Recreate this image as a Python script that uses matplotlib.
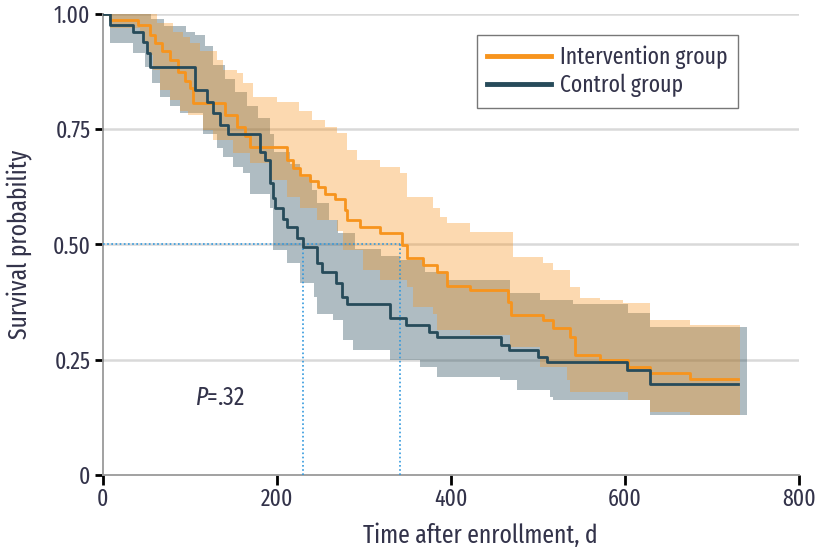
import matplotlib
matplotlib.use("Agg")
import matplotlib.pyplot as plt
import numpy as np

# Kaplan-Meier step curves (days, survival probability)
ctrl_time = [0, 8, 34, 46, 51, 54, 106, 120, 126, 134, 144, 180, 186, 192, 195, 198, 207, 211, 223, 230,
             246, 252, 268, 275, 281, 330, 348, 375, 384, 458, 467, 500, 510, 602, 629, 730]
ctrl_surv = [1.0, 0.976, 0.96, 0.94, 0.915, 0.885, 0.835, 0.81, 0.785, 0.76, 0.74, 0.70, 0.683, 0.633, 0.60,
             0.58, 0.555, 0.538, 0.515, 0.495, 0.46, 0.44, 0.416, 0.386, 0.37, 0.34, 0.325, 0.31, 0.30,
             0.282, 0.271, 0.256, 0.245, 0.228, 0.197, 0.197]

int_time = [0, 8, 40, 54, 60, 68, 77, 86, 94, 100, 103, 140, 154, 163, 169, 211, 218, 226, 238, 247,
            255, 267, 278, 280, 295, 318, 344, 349, 368, 384, 395, 422, 466, 469, 506, 517, 537, 543,
            571, 603, 629, 675, 730]
int_surv = [1.0, 0.987, 0.976, 0.955, 0.937, 0.92, 0.90, 0.874, 0.855, 0.84, 0.807, 0.78, 0.755, 0.735,
            0.711, 0.683, 0.665, 0.651, 0.638, 0.625, 0.61, 0.598, 0.575, 0.553, 0.538, 0.525, 0.499,
            0.47, 0.456, 0.44, 0.41, 0.401, 0.375, 0.347, 0.336, 0.319, 0.30, 0.26, 0.25, 0.234, 0.221,
            0.208, 0.208]

# confidence bands
ctrl_up_t = [0, 55, 70, 95, 106, 117, 126, 140, 152, 165, 178, 192, 196, 215, 226, 240, 246, 260, 270,
             290, 320, 341, 370, 395, 468, 502, 540, 603, 629, 740]
ctrl_up = [1.0, 0.99, 0.975, 0.96, 0.955, 0.93, 0.89, 0.86, 0.83, 0.80, 0.775, 0.74, 0.70, 0.675, 0.646,
           0.618, 0.59, 0.553, 0.525, 0.49, 0.475, 0.466, 0.44, 0.423, 0.395, 0.38, 0.37, 0.351, 0.321,
           0.321]
ctrl_lo_t = [0, 8, 34, 48, 56, 66, 77, 89, 115, 131, 138, 150, 161, 169, 192, 195, 211, 226, 243, 246,
             264, 276, 287, 330, 364, 384, 456, 476, 514, 517, 629, 740]
ctrl_lo = [1.0, 0.937, 0.915, 0.885, 0.85, 0.82, 0.80, 0.785, 0.74, 0.71, 0.69, 0.668, 0.655, 0.61,
           0.58, 0.488, 0.46, 0.416, 0.386, 0.35, 0.336, 0.293, 0.271, 0.25, 0.234, 0.213, 0.206, 0.184,
           0.17, 0.163, 0.13, 0.13]

int_up_t = [0, 50, 62, 80, 92, 100, 112, 131, 138, 154, 161, 172, 200, 225, 240, 255, 269, 280, 292,
            318, 341, 349, 379, 387, 395, 422, 471, 506, 517, 537, 548, 571, 598, 629, 675, 732]
int_up = [1.0, 1.0, 0.98, 0.96, 0.95, 0.937, 0.92, 0.90, 0.878, 0.872, 0.85, 0.82, 0.81, 0.79, 0.77,
          0.755, 0.742, 0.705, 0.683, 0.668, 0.655, 0.603, 0.58, 0.56, 0.547, 0.527, 0.473, 0.46, 0.445,
          0.408, 0.384, 0.38, 0.373, 0.336, 0.325, 0.325]
int_lo_t = [0, 8, 43, 48, 52, 57, 65, 77, 89, 98, 115, 127, 149, 169, 192, 211, 226, 246, 269, 276,
            299, 318, 349, 356, 379, 384, 422, 468, 502, 533, 537, 603, 629, 675, 732]
int_lo = [1.0, 0.97, 0.96, 0.937, 0.91, 0.878, 0.835, 0.813, 0.79, 0.78, 0.748, 0.727, 0.698, 0.677,
          0.64, 0.603, 0.58, 0.553, 0.53, 0.488, 0.445, 0.423, 0.408, 0.364, 0.35, 0.315, 0.304, 0.278,
          0.234, 0.206, 0.18, 0.163, 0.137, 0.13, 0.13]

medians = [230, 341]
x_ticks = [0, 200, 400, 600, 800]
y_ticks = [0, 0.25, 0.5, 0.75, 1.0]
y_labels = ['0', '0.25', '0.50', '0.75', '1.00']

ORANGE = '#f7941d'
DARK = '#274b5a'
TXT = '#33334a'
FONT = 'Fira Sans Extra Condensed'

plt.rcParams['font.family'] = [FONT, 'DejaVu Sans']
plt.rcParams['mathtext.fontset'] = 'custom'
plt.rcParams['mathtext.rm'] = FONT
plt.rcParams['mathtext.it'] = FONT + ':italic'


def step_band(ax, t_lo, lo, t_up, up, color, alpha):
    grid = np.union1d(t_lo, t_up)
    lo_g = np.asarray(lo)[np.searchsorted(t_lo, grid, side='right') - 1]
    up_g = np.asarray(up)[np.searchsorted(t_up, grid, side='right') - 1]
    ax.fill_between(grid, lo_g, up_g, step='post', color=color, alpha=alpha,
                    linewidth=0, zorder=2)


fig = plt.figure(figsize=(8.2, 5.49), dpi=100)
ax = fig.add_axes([0.1256, 0.1348, 0.8488, 0.8397])

# grid
for y in y_ticks[1:]:
    ax.axhline(y, color='#d9d9d9', lw=1.8, zorder=1)

step_band(ax, ctrl_lo_t, ctrl_lo, ctrl_up_t, ctrl_up, DARK, 0.37)
step_band(ax, int_lo_t, int_lo, int_up_t, int_up, ORANGE, 0.35)

# median guides
ax.plot([0, medians[1]], [0.5, 0.5], ls=(0, (1, 1.5)), color='#3399dd', lw=1.2, zorder=3)
for m in medians:
    ax.plot([m, m], [0, 0.5], ls=(0, (1, 1.5)), color='#3399dd', lw=1.2, zorder=3)

ax.step(int_time, int_surv, where='post', color=ORANGE, lw=2.0, zorder=4,
        label='Intervention group')
ax.step(ctrl_time, ctrl_surv, where='post', color=DARK, lw=2.0, zorder=5,
        label='Control group')

ax.text(106, 0.167, '$P$=.32', fontsize=18.5, color=TXT, va='center', ha='left')

ax.set_xlim(0, 800)
ax.set_ylim(0, 1)
ax.set_xticks(x_ticks)
ax.set_yticks(y_ticks)
ax.set_yticklabels(y_labels)
ax.tick_params(axis='both', colors='black', labelcolor=TXT, labelsize=17,
               width=2, length=6, direction='out')
ax.tick_params(axis='x', length=7, pad=2)
ax.tick_params(axis='y', pad=3)

for s in ['top', 'right']:
    ax.spines[s].set_visible(False)
for s in ['left', 'bottom']:
    ax.spines[s].set_color('#9a9a9a')
    ax.spines[s].set_linewidth(1.3)

ax.set_xlabel('Time after enrollment, d', fontsize=18.5, color=TXT)
ax.xaxis.set_label_coords(0.542, -0.105)
ax.set_ylabel('Survival probability', fontsize=18.5, color=TXT)
ax.yaxis.set_label_coords(-0.1, 0.5)

leg = ax.legend(loc='upper right', bbox_to_anchor=(0.912, 0.954), fontsize=17,
                frameon=True, fancybox=False, edgecolor='#555555', handlelength=2.7,
                borderpad=0.45, labelspacing=0.2, handletextpad=0.35, borderaxespad=0)
leg.get_frame().set_linewidth(1.0)
for t in leg.get_texts():
    t.set_color(TXT)
for h in leg.get_lines():
    h.set_linewidth(3.5)

fig.savefig('out.png', dpi=100)
